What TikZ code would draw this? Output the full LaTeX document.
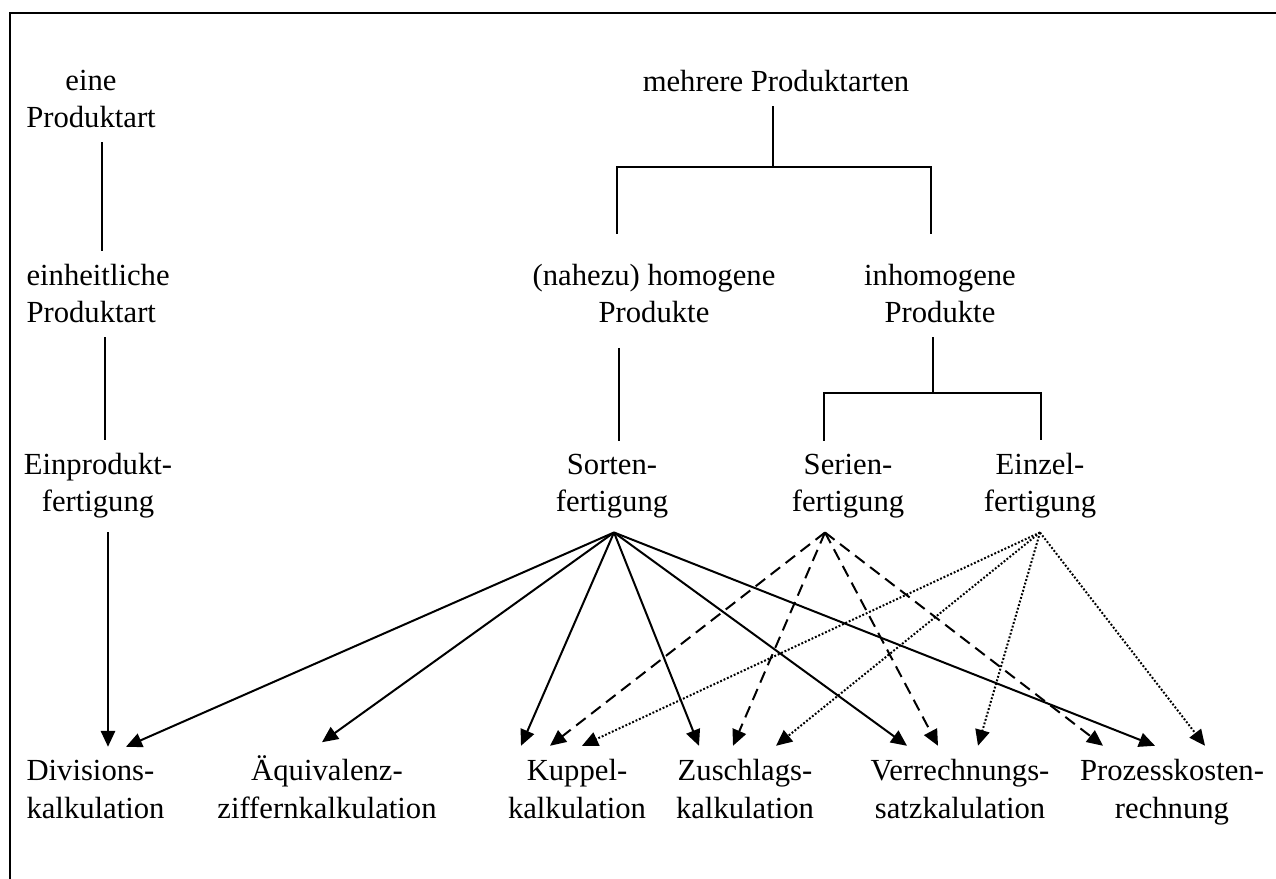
\documentclass[tikz,border=0pt]{standalone}
\usepackage{fontspec}
\setmainfont{Liberation Serif}
\usetikzlibrary{arrows.meta}

\begin{document}
\begin{tikzpicture}[x=0.375pt,y=-0.375pt,
  every node/.style={font=\fontsize{11.5}{13.9}\selectfont, inner xsep=0pt, inner ysep=5pt, anchor=base, align=center},
  lft/.style={anchor=base west, align=left},
  con/.style={line width=0.75pt},
  arr/.style={con, -{Triangle[length=6pt,width=5.4pt]}},
  dsh/.style={arr, dash pattern=on 4.5pt off 2.6pt},
  dts/.style={arr, dash pattern=on 0.7pt off 0.7pt}]
\useasboundingbox (0,0) rectangle (1276,879);
\draw[con] (10,879) -- (10,13) -- (1276,13);

\node (eine)      at (91,128)  {eine\\Produktart};
\node[lft] (einheit) at (26,323) {einheitliche\\Produktart};
\node (einprod)   at (98,512)  {Einprodukt-\\fertigung};
\node (mehrere)   at (776,92)  {mehrere Produktarten};
\node (homogen)   at (654,323) {(nahezu) homogene\\Produkte};
\node (inhomogen) at (940,323) {inhomogene\\Produkte};
\node (sorten)    at (612,512) {Sorten-\\fertigung};
\node (serien)    at (848,512) {Serien-\\fertigung};
\node (einzel)    at (1040,512) {Einzel-\\fertigung};
\node[lft] (divis) at (26,818) {Divisions-\\kalkulation};
\node (aequi)     at (327,818) {Äquivalenz-\\ziffernkalkulation};
\node (kuppel)    at (577,818) {Kuppel-\\kalkulation};
\node (zuschl)    at (745,818) {Zuschlags-\\kalkulation};
\node (verr)      at (960,818) {Verrechnungs-\\satzkalulation};
\node (proz)      at (1172,818) {Prozesskosten-\\rechnung};

\coordinate (jTop) at (773,167);
\coordinate (hL) at (617,234);
\coordinate (hR) at (931,234);
\coordinate (jMid) at (933,393);
\coordinate (sorP) at (sorten.south -| 614,0);
\coordinate (serP) at (serien.south -| 825,0);
\coordinate (einP) at (einzel.south -| 1040,0);

\draw[con] (eine.south -| 102,0) -- (einheit.north -| 102,0);
\draw[con] (einheit.south -| 105,0) -- (einprod.north -| 105,0);
\draw[arr] (einprod.south -| 108,0) -- (divis.north -| 108,0);

\draw[con] (mehrere.south -| jTop) -- (jTop);
\draw[con] (hL) |- (jTop) -| (hR);
\draw[con,shorten <=4pt] (homogen.south -| 619,0) -- (sorten.north -| 619,0);
\draw[con] (inhomogen.south -| jMid) -- (jMid);
\draw[con] (serien.north -| 824,0) |- (jMid) -| (einzel.north -| 1041,0);

\foreach \t/\x in {divis/126, aequi/322, kuppel/521, zuschl/699, verr/907, proz/1155}
  \draw[arr] (sorP) -- (\t.north -| \x,0);
\foreach \t/\x in {kuppel/550, zuschl/733, verr/938, proz/1103}
  \draw[dsh] (serP) -- (\t.north -| \x,0);
\foreach \t/\x in {kuppel/582, zuschl/776, verr/978, proz/1205}
  \draw[dts] (einP) -- (\t.north -| \x,0);
\end{tikzpicture}
\end{document}
